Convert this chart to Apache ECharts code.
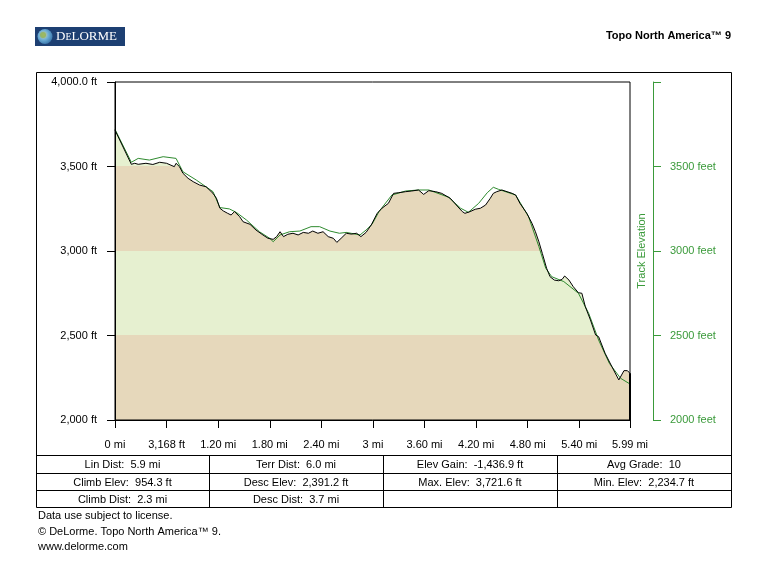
<!DOCTYPE html>
<html>
<head>
<meta charset="utf-8">
<script src="https://cdn.jsdelivr.net/npm/echarts@6/dist/echarts.min.js"></script>
<style>
html,body{margin:0;padding:0;background:#fff;}
#chart{width:768px;height:572px;}
</style>
</head>
<body>
<div id="chart"></div>
<script>
// ---- data ----
const trackMiles = [0,0.19,0.23,0.27,0.36,0.44,0.52,0.60,0.64,0.69,0.71,0.75,0.79,0.85,0.91,0.985,1.06,1.14,1.18,1.22,1.26,1.31,1.35,1.39,1.45,1.49,1.57,1.64,1.72,1.78,1.84,1.88,1.92,1.93,1.96,2.01,2.07,2.13,2.19,2.25,2.30,2.36,2.42,2.48,2.54,2.58,2.63,2.69,2.75,2.81,2.86,2.92,2.98,3.05,3.105,3.18,3.24,3.30,3.38,3.45,3.53,3.59,3.65,3.73,3.80,3.90,3.98,4.04,4.07,4.13,4.19,4.25,4.31,4.365,4.40,4.44,4.50,4.56,4.62,4.66,4.71,4.79,4.85,4.89,4.93,4.97,5.02,5.06,5.11,5.16,5.20,5.23,5.28,5.33,5.39,5.43,5.47,5.53,5.59,5.625,5.70,5.78,5.86,5.92,5.96,5.99];
const trackElev = [3715,3513,3519,3513,3519,3512,3525,3519,3510,3499,3519,3499,3460,3430,3410,3390,3380,3341,3312,3253,3237,3223,3213,3233,3203,3173,3158,3124,3095,3075,3069,3085,3114,3124,3085,3099,3105,3095,3110,3105,3118,3105,3114,3085,3075,3051,3075,3105,3100,3105,3085,3110,3154,3223,3253,3282,3341,3345,3351,3355,3361,3335,3357,3351,3341,3312,3266,3233,3223,3233,3247,3253,3272,3312,3341,3351,3361,3351,3341,3331,3282,3223,3164,3114,3055,2986,2898,2848,2828,2824,2832,2852,2828,2789,2753,2750,2671,2592,2503,2493,2395,2315,2237,2292,2292,2276];
const terrainMiles = [0,0.19,0.27,0.40,0.56,0.71,0.79,0.945,1.14,1.22,1.33,1.41,1.53,1.68,1.80,1.84,1.92,2.03,2.15,2.28,2.38,2.50,2.61,2.69,2.85,2.92,2.99,3.07,3.22,3.38,3.53,3.65,3.88,4.02,4.11,4.23,4.33,4.40,4.46,4.66,4.81,4.93,5.01,5.08,5.22,5.39,5.51,5.625,5.75,5.88,5.99];
const terrainElev = [3720,3525,3548,3538,3558,3548,3469,3420,3351,3257,3249,3229,3183,3114,3075,3055,3095,3114,3118,3144,3144,3118,3105,3110,3095,3124,3158,3233,3331,3355,3361,3361,3318,3253,3229,3282,3345,3377,3365,3331,3203,3026,2898,2848,2819,2750,2631,2473,2335,2247,2213];
const xTickValues = [0,0.6,1.2,1.8,2.4,3,3.6,4.2,4.8,5.4,5.99];
const xTickLabels = ['0 mi','3,168 ft','1.20 mi','1.80 mi','2.40 mi','3 mi','3.60 mi','4.20 mi','4.80 mi','5.40 mi','5.99 mi'];
const yTickValues = [2000,2500,3000,3500,4000];
const yLeftLabels = ['2,000 ft','2,500 ft','3,000 ft','3,500 ft','4,000.0 ft'];
const yRightLabels = ['2000 feet','2500 feet','3000 feet','3500 feet',''];
const rightAxisName = 'Track Elevation';
const bandBounds = [2000,2500,3000,3500,4000];
const tableRows = [
  ['Lin Dist:  5.9 mi','Terr Dist:  6.0 mi','Elev Gain:  -1,436.9 ft','Avg Grade:  10'],
  ['Climb Elev:  954.3 ft','Desc Elev:  2,391.2 ft','Max. Elev:  3,721.6 ft','Min. Elev:  2,234.7 ft'],
  ['Climb Dist:  2.3 mi','Desc Dist:  3.7 mi','','']
];
const footerLines = ['Data use subject to license.','© DeLorme. Topo North America™ 9.','www.delorme.com'];
const titleText = 'Topo North America™ 9';

// ---- build ----
const FONT = '"Liberation Sans", Arial, sans-serif';
const TAN = '#e6d8bb', LGREEN = '#e6f0d0';
const GREEN_LINE = '#2e8a2e', GREEN_AXIS = '#3a9a3a';

const trackData = trackMiles.map((m,i)=>[m, trackElev[i]]);
const terrainData = terrainMiles.map((m,i)=>[m, terrainElev[i]]);

function lookup(vals, labels, v){
  for (let i=0;i<vals.length;i++) if (Math.abs(vals[i]-v) < 1e-6) return labels[i];
  return '';
}

const pieces = [];
for (let i=0;i<bandBounds.length-1;i++){
  pieces.push({gte: bandBounds[i], lt: bandBounds[i+1], color: i%2===0 ? TAN : LGREEN});
}

// graphics: frame, table, header, footer
const FX0 = 36, FX1 = 731, FY0 = 72, FY1 = 507;
const rowYs = [455, 473, 490, 507];
const colXs = [36, 209, 383, 557, 731];
const graphics = [];
graphics.push({type:'rect', shape:{x:FX0+0.5, y:FY0+0.5, width:FX1-FX0, height:FY1-FY0}, style:{fill:'none', stroke:'#000', lineWidth:1}, silent:true});
rowYs.slice(0,3).forEach(y=>{
  graphics.push({type:'line', shape:{x1:FX0, y1:y+0.5, x2:FX1, y2:y+0.5}, style:{stroke:'#000', lineWidth:1}, silent:true});
});
colXs.slice(1,4).forEach(x=>{
  graphics.push({type:'line', shape:{x1:x+0.5, y1:rowYs[0], x2:x+0.5, y2:rowYs[3]}, style:{stroke:'#000', lineWidth:1}, silent:true});
});
tableRows.forEach((row,r)=>{
  row.forEach((txt,c)=>{
    if (!txt) return;
    graphics.push({type:'text', x:(colXs[c]+colXs[c+1])/2, y:(rowYs[r]+rowYs[r+1])/2+1,
      style:{text:txt, fill:'#000', font:'11px '+FONT, textAlign:'center', textVerticalAlign:'middle'}, silent:true});
  });
});
footerLines.forEach((t,i)=>{
  graphics.push({type:'text', x:38, y:516+i*15.5, style:{text:t, fill:'#000', font:'11px '+FONT, textAlign:'left', textVerticalAlign:'middle'}, silent:true});
});
graphics.push({type:'text', x:731, y:36, style:{text:titleText, fill:'#000', font:'bold 11px '+FONT, textAlign:'right', textVerticalAlign:'middle'}, silent:true});
// right axis name
graphics.push({type:'text', x:642, y:251, rotation:Math.PI/2, style:{text:rightAxisName, fill:GREEN_AXIS, font:'11px '+FONT, textAlign:'center', textVerticalAlign:'middle'}, silent:true, z:10});
// logo
graphics.push({type:'rect', shape:{x:35, y:27, width:90, height:19}, style:{fill:'#1d3f72'}, silent:true});
graphics.push({type:'circle', shape:{cx:45, cy:36.5, r:7.5}, style:{fill:{type:'radial', x:0.4, y:0.4, r:0.7, colorStops:[{offset:0,color:'#e8d27a'},{offset:0.45,color:'#6fb0d8'},{offset:1,color:'#2f6aa0'}]}}, silent:true});
graphics.push({type:'circle', shape:{cx:43, cy:35, r:3}, style:{fill:'#8fb357', opacity:0.8}, silent:true});
graphics.push({type:'text', x:56, y:37, style:{
  rich:{b:{font:'13px "Liberation Serif", serif', fill:'#fff'}, s:{font:'10px "Liberation Serif", serif', fill:'#fff'}},
  text:'{b|D}{s|E}{b|LORME}', textVerticalAlign:'middle', textAlign:'left'}, silent:true});

const chart = echarts.init(document.getElementById('chart'), null, {renderer:'canvas'});
chart.setOption({
  animation:false,
  backgroundColor:'#fff',
  textStyle:{fontFamily:FONT},
  grid:{left:115, right:138, top:82, bottom:152, show:true, borderColor:'#000', borderWidth:1, backgroundColor:'transparent', z:5},
  xAxis:{
    type:'value', min:0, max:5.99, interval:0.6, z:6,
    axisLine:{show:true, lineStyle:{color:'#000', width:1}},
    axisTick:{show:true, length:8, lineStyle:{color:'#000'}},
    axisLabel:{color:'#000', fontSize:11, fontFamily:FONT, margin:19, showMinLabel:true, showMaxLabel:true,
      formatter:v=>lookup(xTickValues, xTickLabels, v)},
    splitLine:{show:false}
  },
  yAxis:[{
    type:'value', min:2000, max:4000, interval:500, position:'left', z:6,
    axisLine:{show:true, lineStyle:{color:'#000', width:1}},
    axisTick:{show:true, length:8, lineStyle:{color:'#000'}},
    axisLabel:{color:'#000', fontSize:11, fontFamily:FONT, margin:18,
      formatter:v=>lookup(yTickValues, yLeftLabels, v)},
    splitLine:{show:false}
  },{
    type:'value', min:2000, max:4000, interval:500, position:'right', offset:23, z:6,
    axisLine:{show:true, lineStyle:{color:GREEN_AXIS, width:1}},
    axisTick:{show:true, length:8, lineStyle:{color:GREEN_AXIS}},
    axisLabel:{color:GREEN_AXIS, fontSize:11, fontFamily:FONT, margin:17,
      formatter:v=>lookup(yTickValues, yRightLabels, v)},
    splitLine:{show:false}
  }],
  visualMap:{type:'piecewise', show:false, dimension:1, seriesIndex:0, pieces:pieces},
  series:[
    {type:'line', data:trackData, showSymbol:false, symbol:'none', lineStyle:{width:0, opacity:0}, areaStyle:{opacity:1}, z:1, silent:true},
    {type:'line', data:terrainData, showSymbol:false, symbol:'none', lineStyle:{color:GREEN_LINE, width:1}, z:2, silent:true},
    {type:'line', data:trackData, showSymbol:false, symbol:'none', lineStyle:{color:'#000', width:1}, z:3, silent:true,
      markLine:{silent:true, symbol:'none', label:{show:false}, lineStyle:{color:'#000', width:2, type:'solid'},
        data:[[{coord:[trackMiles[trackMiles.length-1], trackElev[trackElev.length-1]]},{coord:[trackMiles[trackMiles.length-1], yTickValues[0]]}]]}}
  ],
  graphic:graphics
});
</script>
</body>
</html>
